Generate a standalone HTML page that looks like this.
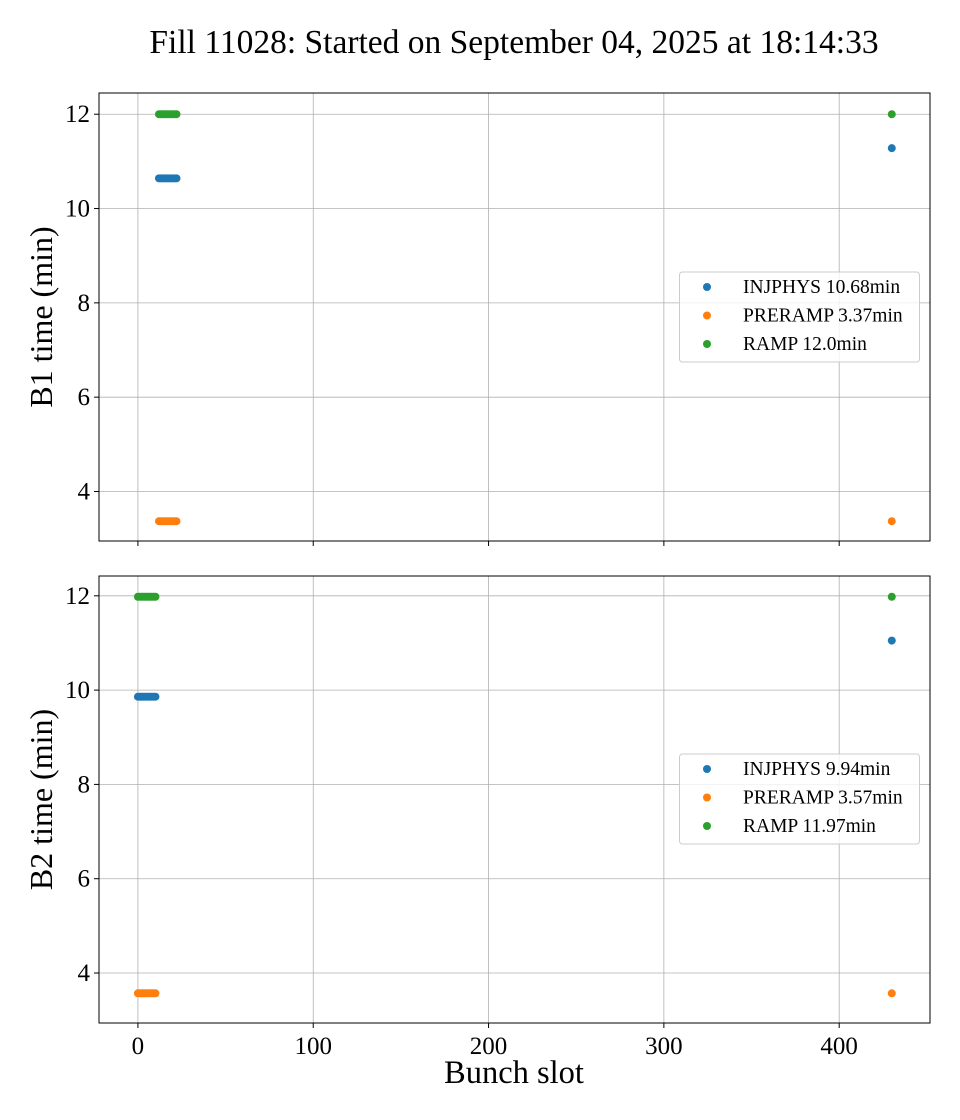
<!DOCTYPE html>
<html><head><meta charset="utf-8"><style>
body{margin:0;background:#fff;}
svg{display:block;font-family:"Liberation Serif",serif;}
</style></head><body>
<svg id="chart" width="960" height="1120" xmlns="http://www.w3.org/2000/svg">
<text x="514" y="53" font-size="33.5" text-anchor="middle">Fill 11028: Started on September 04, 2025 at 18:14:33</text>
</svg>
<script>
const xTicks=[0,100,200,300,400];
const yTicks=[4,6,8,10,12];
const seriesNames=["INJPHYS","PRERAMP","RAMP"];
const seriesColors=["#1f77b4","#ff7f0e","#2ca02c"];
const b1Slots=[12,13,14,15,16,17,18,19,20,21,22,430];
const b1Injphys=[10.64,10.64,10.64,10.64,10.64,10.64,10.64,10.64,10.64,10.64,10.64,11.28];
const b1Preramp=[3.37,3.37,3.37,3.37,3.37,3.37,3.37,3.37,3.37,3.37,3.37,3.37];
const b1Ramp=[12.0,12.0,12.0,12.0,12.0,12.0,12.0,12.0,12.0,12.0,12.0,12.0];
const b1Legend=["INJPHYS 10.68min","PRERAMP 3.37min","RAMP 12.0min"];
const b2Slots=[0,1,2,3,4,5,6,7,8,9,10,430];
const b2Injphys=[9.86,9.86,9.86,9.86,9.86,9.86,9.86,9.86,9.86,9.86,9.86,11.05];
const b2Preramp=[3.57,3.57,3.57,3.57,3.57,3.57,3.57,3.57,3.57,3.57,3.57,3.57];
const b2Ramp=[11.98,11.98,11.98,11.98,11.98,11.98,11.98,11.98,11.98,11.98,11.98,11.98];
const b2Legend=["INJPHYS 9.94min","PRERAMP 3.57min","RAMP 11.97min"];

const NS="http://www.w3.org/2000/svg";
const svg=document.getElementById('chart');
function mk(tag,attrs,parent){const e=document.createElementNS(NS,tag);for(const k in attrs)e.setAttribute(k,attrs[k]);(parent||svg).appendChild(e);return e;}
const L=99,R=930,xMin=-22.2,xMax=451.8;
const xs=v=>L+(v-xMin)/(xMax-xMin)*(R-L);

function panel(top,bot,yMin,yMax,slots,series,legend,label,showX,key,legTop){
  const ys=v=>bot-(v-yMin)/(yMax-yMin)*(bot-top);
  const g=mk('g',{});
  
  
  xTicks.forEach(t=>{
    const l=mk('line',{x1:xs(t),x2:xs(t),y1:top,y2:bot,stroke:'#b0b0b0','stroke-width':0.8},g);
    
    
    mk('line',{x1:xs(t),x2:xs(t),y1:bot,y2:bot+5,stroke:'#000','stroke-width':1},g);
    if(showX){const tx=mk('text',{x:xs(t),y:bot+31,'font-size':25,'text-anchor':'middle'},g);tx.textContent=t;
      
      }
  });
  yTicks.forEach(t=>{
    const l=mk('line',{x1:L,x2:R,y1:ys(t),y2:ys(t),stroke:'#b0b0b0','stroke-width':0.8},g);
    
    
    mk('line',{x1:L-5,x2:L,y1:ys(t),y2:ys(t),stroke:'#000','stroke-width':1},g);
    const tx=mk('text',{x:L-9,y:ys(t)+8,'font-size':25,'text-anchor':'end'},g);tx.textContent=t;
    
    
  });
  series.forEach((vals,si)=>{
    vals.forEach((v,i)=>{
      const c=mk('circle',{cx:xs(slots[i]),cy:ys(v),r:4,fill:seriesColors[si]},g);
      
      
    });
  });
  const fr=mk('rect',{x:L,y:top,width:R-L,height:bot-top,fill:'none',stroke:'#000','stroke-width':1},g);
  
  
  const yl=mk('text',{x:0,y:0,'font-size':32,'text-anchor':'middle',transform:`translate(52,${(top+bot)/2}) rotate(-90)`},g);
  yl.textContent=label;
  
  
  const lg=mk('g',{},g);
  
  
  mk('rect',{x:679.5,y:legTop,width:240,height:90,rx:3,fill:'#fff','fill-opacity':0.8,stroke:'#ccc','stroke-width':1},lg);
  legend.forEach((s,i)=>{
    const yy=legTop+15+i*28.5;
    mk('circle',{cx:707,cy:yy,r:4,fill:seriesColors[i]},lg);
    const t=mk('text',{x:743,y:yy+6,'font-size':19.5},lg);t.textContent=s;
    
    
  });
}
panel(93,541,2.95,12.45,b1Slots,[b1Injphys,b1Preramp,b1Ramp],b1Legend,'B1 time (min)',false,'b1',272);
panel(576,1023,2.94,12.42,b2Slots,[b2Injphys,b2Preramp,b2Ramp],b2Legend,'B2 time (min)',true,'b2',754);
const xl=mk('text',{x:514,y:1083,'font-size':32.5,'text-anchor':'middle'});
xl.textContent='Bunch slot';


</script>
</body></html>
